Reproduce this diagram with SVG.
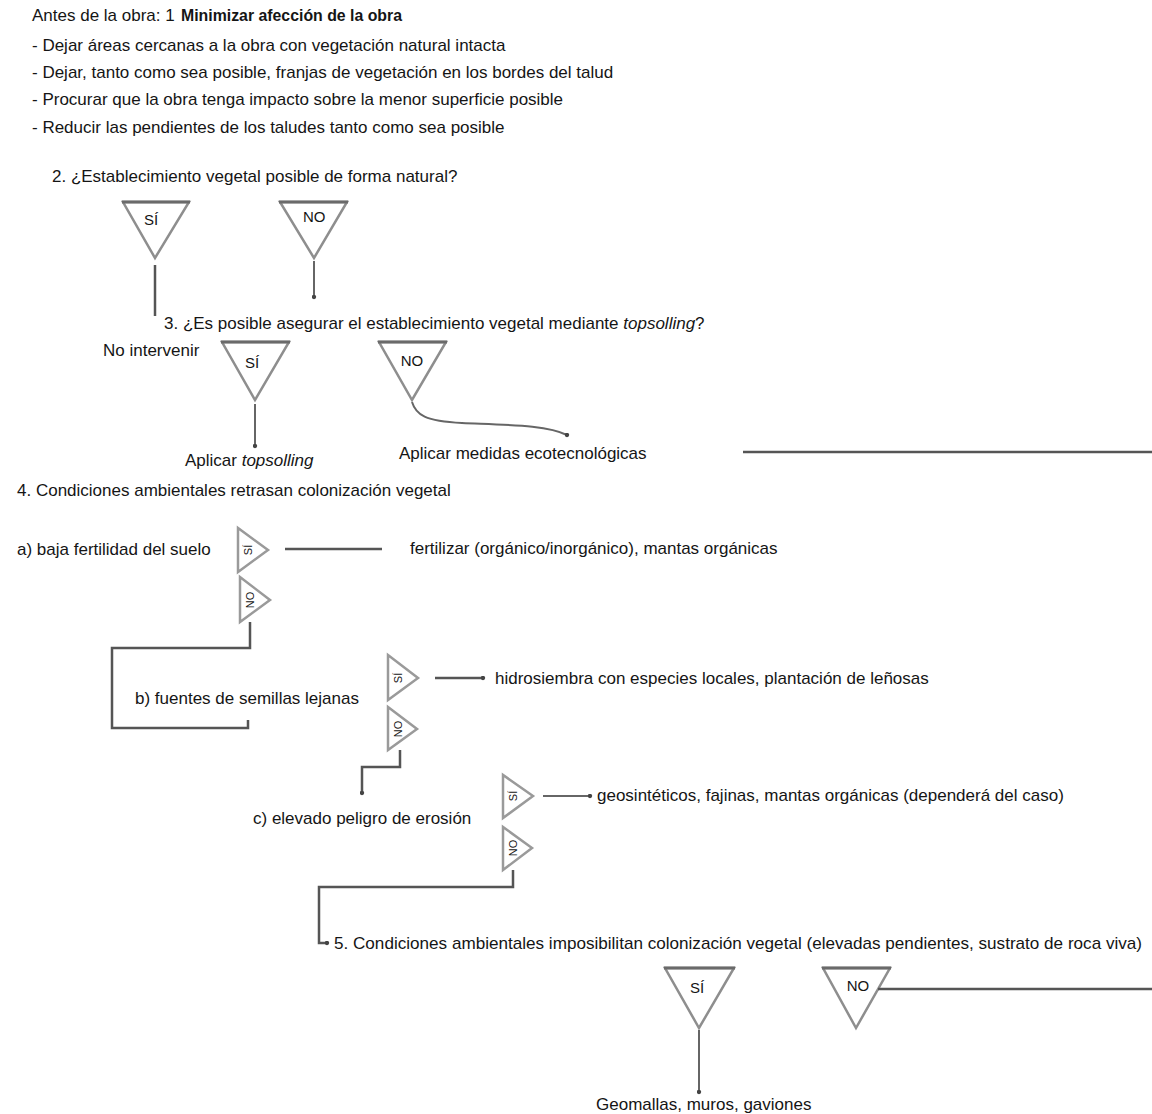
<svg xmlns="http://www.w3.org/2000/svg" width="1152" height="1114" viewBox="0 0 1152 1114">
<style>
text{font-family:"Liberation Sans",Arial,sans-serif;font-size:17px;fill:#151515}
.b{font-weight:bold}
.i{font-style:italic}
.tri{fill:#fff;stroke:#8e8e8e;stroke-width:2.5;stroke-linejoin:miter}
.top{stroke:#6a6a6a;stroke-width:3}
.st{fill:#fff;stroke:#9a9a9a;stroke-width:2.5}
.tl{font-size:15px}
.sm{font-size:11px}
.c{fill:none;stroke:#666;stroke-width:2}
.ck{fill:none;stroke:#555;stroke-width:2.5}
</style>
<defs>
<marker id="dot" viewBox="0 0 6 6" refX="3" refY="3" markerWidth="5" markerHeight="5" markerUnits="userSpaceOnUse"><circle cx="3" cy="3" r="2.6" fill="#444"/></marker>
</defs>
<rect width="1152" height="1114" fill="#fff"/>

<g id="n1">
<text x="32" y="21">Antes de la obra: 1</text>
<text class="b" x="181" y="21" textLength="221" lengthAdjust="spacingAndGlyphs">Minimizar afección de la obra</text>
<text x="32" y="51">- Dejar áreas cercanas a la obra con vegetación natural intacta</text>
<text x="32" y="78">- Dejar, tanto como sea posible, franjas de vegetación en los bordes del talud</text>
<text x="32" y="105">- Procurar que la obra tenga impacto sobre la menor superficie posible</text>
<text x="32" y="133">- Reducir las pendientes de los taludes tanto como sea posible</text>
</g>

<g id="n2"><text x="52" y="182">2. ¿Establecimiento vegetal posible de forma natural?</text></g>
<g id="n2si"><polygon class="tri" points="123,202 189,202 155,258"/><line class="top" x1="122" y1="202" x2="190" y2="202"/><text class="tl" x="144" y="225">SÍ</text></g>
<g id="n2no"><polygon class="tri" points="280,202 347,202 314,258"/><line class="top" x1="279" y1="202" x2="348" y2="202"/><text class="tl" x="303" y="222">NO</text></g>

<g id="n3"><text x="164" y="329">3. ¿Es posible asegurar el establecimiento vegetal mediante <tspan class="i">topsolling</tspan>?</text></g>
<g id="nNoInt"><text x="103" y="356">No intervenir</text></g>
<g id="n3si"><polygon class="tri" points="222,342 289,342 255,400"/><line class="top" x1="221" y1="342" x2="290" y2="342"/><text class="tl" x="245" y="368">SÍ</text></g>
<g id="n3no"><polygon class="tri" points="379,342 446,342 412,400"/><line class="top" x1="378" y1="342" x2="447" y2="342"/><text class="tl" x="412" y="366" text-anchor="middle">NO</text></g>
<g id="nTop"><text x="185" y="466">Aplicar <tspan class="i">topsolling</tspan></text></g>
<g id="nEco"><text x="399" y="459">Aplicar medidas ecotecnológicas</text></g>

<g id="n4"><text x="17" y="496">4. Condiciones ambientales retrasan colonización vegetal</text></g>

<g id="na"><text x="17" y="555">a) baja fertilidad del suelo</text></g>
<g id="nasi"><polygon class="st" points="238,528 238,572 268,550"/><text class="sm" transform="translate(252,550) rotate(-90)" text-anchor="middle">SÍ</text></g>
<g id="nano"><polygon class="st" points="240,577 240,622 270,600"/><text class="sm" transform="translate(254,600) rotate(-90)" text-anchor="middle">NO</text></g>
<g id="nfert"><text x="410" y="554">fertilizar (orgánico/inorgánico), mantas orgánicas</text></g>

<g id="nb"><text x="135" y="704">b) fuentes de semillas lejanas</text></g>
<g id="nbsi"><polygon class="st" points="388,655 388,700 418,678"/><text class="sm" transform="translate(402,678) rotate(-90)" text-anchor="middle">SÍ</text></g>
<g id="nbno"><polygon class="st" points="388,707 388,750 417,729"/><text class="sm" transform="translate(402,729) rotate(-90)" text-anchor="middle">NO</text></g>
<g id="nhidro"><text x="495" y="684">hidrosiembra con especies locales, plantación de leñosas</text></g>

<g id="nc"><text x="253" y="824">c) elevado peligro de erosión</text></g>
<g id="ncsi"><polygon class="st" points="503,775 503,818 533,796"/><text class="sm" transform="translate(517,796) rotate(-90)" text-anchor="middle">SÍ</text></g>
<g id="ncno"><polygon class="st" points="503,827 503,870 532,848"/><text class="sm" transform="translate(517,848) rotate(-90)" text-anchor="middle">NO</text></g>
<g id="ngeo"><text x="597" y="801">geosintéticos, fajinas, mantas orgánicas (dependerá del caso)</text></g>

<g id="n5"><text x="334" y="949" textLength="808" lengthAdjust="spacingAndGlyphs">5. Condiciones ambientales imposibilitan colonización vegetal (elevadas pendientes, sustrato de roca viva)</text></g>
<g id="n5si"><polygon class="tri" points="665,968 734,968 699,1028"/><line class="top" x1="664" y1="968" x2="735" y2="968"/><text class="tl" x="697" y="993" text-anchor="middle">SÍ</text></g>
<g id="n5no"><polygon class="tri" points="823,968 890,968 856,1028"/><line class="top" x1="822" y1="968" x2="891" y2="968"/><text class="tl" x="858" y="991" text-anchor="middle">NO</text></g>
<g id="nGeom"><text x="596" y="1110">Geomallas, muros, gaviones</text></g>

<g id="connectors">
<line class="ck" x1="155" y1="265" x2="155" y2="316" stroke-width="3.5" stroke="#777"/>
<line class="c" x1="314" y1="261" x2="314" y2="297" marker-end="url(#dot)"/>
<line class="c" x1="255" y1="404" x2="255" y2="446" marker-end="url(#dot)"/>
<path class="c" d="M412,402 C416,415 425,421 462,423 C510,425 548,425 567,435" marker-end="url(#dot)"/>
<line class="ck" x1="743" y1="452" x2="1152" y2="452" stroke-width="3"/>
<line class="ck" x1="285" y1="549" x2="382" y2="549"/>
<path class="ck" d="M250,622 V648 H112 V728 H248 V720"/>
<line class="ck" x1="435" y1="678" x2="483" y2="678" marker-end="url(#dot)"/>
<path class="ck" d="M400,750 V767 H362 V793" marker-end="url(#dot)"/>
<line class="c" x1="543" y1="796" x2="590" y2="796" marker-end="url(#dot)"/>
<path class="ck" d="M513,870 V887 H319 V943 H327" marker-end="url(#dot)"/>
<line class="ck" x1="878" y1="989" x2="1152" y2="989"/>
<line class="c" x1="699" y1="1030" x2="699" y2="1092" marker-end="url(#dot)"/>
</g>
</svg>
